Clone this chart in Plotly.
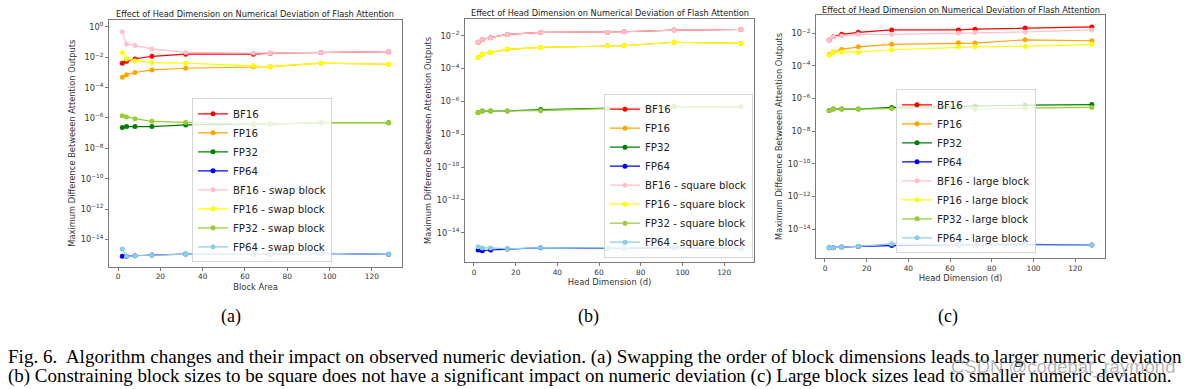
import plotly.graph_objects as go

W, H = 1190, 389

# ---------------- data ----------------
x_vals = [2, 4, 8, 16, 32, 64, 72, 96, 128]

# (a) swap block
bf16_a = [4.0e-3, 5.5e-3, 7.8e-3, 1.17e-2, 1.6e-2, 1.6e-2, 1.85e-2, 2.1e-2, 2.35e-2]
fp16_a = [4.8e-4, 7.2e-4, 1.0e-3, 1.48e-3, 1.9e-3, 2.4e-3, 2.4e-3, 4.1e-3, 3.5e-3]
fp32_a = [2.4e-7, 2.7e-7, 2.7e-7, 2.7e-7, 3.5e-7, 3.8e-7, 4.0e-7, 4.9e-7, 4.9e-7]
fp64_a = [7.8e-16, 7.8e-16, 8.3e-16, 9.3e-16, 1.07e-15, 1.02e-15, 1.05e-15, 1.2e-15, 1.03e-15]
bf16_swap_a = [0.49, 0.076, 0.059, 0.036, 0.021, 0.019, 0.019, 0.021, 0.024]
fp16_swap_a = [2.1e-2, 7.8e-3, 6.0e-3, 4.5e-3, 4.1e-3, 2.8e-3, 2.4e-3, 4.1e-3, 3.5e-3]
fp32_swap_a = [1.4e-6, 1.17e-6, 9.0e-7, 6.0e-7, 5.1e-7, 3.8e-7, 4.0e-7, 4.9e-7, 4.9e-7]
fp64_swap_a = [2.3e-15, 7.8e-16, 8.3e-16, 9.3e-16, 1.07e-15, 1.02e-15, 1.05e-15, 1.2e-15, 1.03e-15]

# (b) square block
bf16_b = [4.0e-3, 6.0e-3, 7.6e-3, 1.2e-2, 1.6e-2, 1.6e-2, 1.75e-2, 2.2e-2, 2.4e-2]
fp16_b = [4.8e-4, 7.4e-4, 9.8e-4, 1.48e-3, 1.95e-3, 2.46e-3, 2.46e-3, 4.0e-3, 3.4e-3]
fp32_b = [2.1e-7, 2.6e-7, 2.6e-7, 2.6e-7, 3.2e-7, 3.6e-7, 4.1e-7, 4.8e-7, 4.7e-7]
fp64_b = [8.9e-16, 7.9e-16, 8.8e-16, 1.0e-15, 1.2e-15, 1.1e-15, 1.15e-15, 1.2e-15, 1.1e-15]
bf16_sq_b = [4.0e-3, 6.0e-3, 7.6e-3, 1.2e-2, 1.6e-2, 1.6e-2, 1.75e-2, 2.2e-2, 2.4e-2]
fp16_sq_b = [4.8e-4, 7.4e-4, 9.8e-4, 1.48e-3, 1.95e-3, 2.46e-3, 2.46e-3, 4.0e-3, 3.4e-3]
fp32_sq_b = [2.1e-7, 2.6e-7, 2.6e-7, 2.6e-7, 2.7e-7, 3.6e-7, 4.1e-7, 4.8e-7, 4.7e-7]
fp64_sq_b = [1.4e-15, 1.17e-15, 1.17e-15, 1.02e-15, 1.23e-15, 1.12e-15, 1.15e-15, 1.2e-15, 1.1e-15]

# (c) large block
bf16_c = [3.9e-3, 6.2e-3, 8.7e-3, 1.15e-2, 1.6e-2, 1.6e-2, 1.78e-2, 2.1e-2, 2.45e-2]
fp16_c = [5.0e-4, 7.2e-4, 1.03e-3, 1.49e-3, 2.1e-3, 2.6e-3, 2.5e-3, 4.0e-3, 3.5e-3]
fp32_c = [1.9e-7, 2.3e-7, 2.3e-7, 2.3e-7, 2.9e-7, 3.2e-7, 3.5e-7, 4.0e-7, 4.3e-7]
fp64_c = [7.4e-16, 7.4e-16, 8.1e-16, 8.9e-16, 1.0e-15, 1.1e-15, 1.15e-15, 1.18e-15, 1.07e-15]
bf16_lg_c = [3.9e-3, 6.2e-3, 6.8e-3, 8.7e-3, 8.7e-3, 1.04e-2, 1.1e-2, 1.2e-2, 1.6e-2]
fp16_lg_c = [4.6e-4, 6.8e-4, 7.2e-4, 7.0e-4, 9.8e-4, 1.49e-3, 1.49e-3, 1.58e-3, 2.1e-3]
fp32_lg_c = [1.9e-7, 2.3e-7, 2.3e-7, 2.3e-7, 2.4e-7, 2.9e-7, 2.3e-7, 2.6e-7, 2.9e-7]
fp64_lg_c = [7.4e-16, 7.4e-16, 8.1e-16, 8.9e-16, 1.26e-15, 1.1e-15, 1.1e-15, 1.1e-15, 1.07e-15]

base_names = ["BF16", "FP16", "FP32", "FP64"]
base_colors = ["#ff0000", "#ffa500", "#008000", "#0000ff"]
var_colors = ["#ffc0cb", "#ffff00", "#9acd32", "#87ceeb"]

panels = [
    dict(key="a", suffix="swap block", xlabel="Block Area",
         base=[bf16_a, fp16_a, fp32_a, fp64_a],
         var=[bf16_swap_a, fp16_swap_a, fp32_swap_a, fp64_swap_a]),
    dict(key="b", suffix="square block", xlabel="Head Dimension (d)",
         base=[bf16_b, fp16_b, fp32_b, fp64_b],
         var=[bf16_sq_b, fp16_sq_b, fp32_sq_b, fp64_sq_b]),
    dict(key="c", suffix="large block", xlabel="Head Dimension (d)",
         base=[bf16_c, fp16_c, fp32_c, fp64_c],
         var=[bf16_lg_c, fp16_lg_c, fp32_lg_c, fp64_lg_c]),
]

title_text = "Effect of Head Dimension on Numerical Deviation of Flash Attention"
ylabel_text = "Maximum Difference Betweeen Attention Outputs"
sub_labels = ["(a)", "(b)", "(c)"]
caption1 = ("Fig. 6.\u00a0 Algorithm changes and their impact on observed numeric deviation. "
            "(a) Swapping the order of block dimensions leads to larger numeric deviation")
caption2 = ("(b) Constraining block sizes to be square does not have a significant impact on "
            "numeric deviation (c) Large block sizes lead to smaller numeric deviation.")
watermark = "CSDN @codebat_raymond"

x_ticks = [0, 20, 40, 60, 80, 100, 120]
y_exps_list = [[0, -2, -4, -6, -8, -10, -12, -14],
               [-2, -4, -6, -8, -10, -12, -14],
               [-2, -4, -6, -8, -10, -12, -14]]

# ---------------- layout geometry (pixels) ----------------
boxes = [  # x0, x1, ytop, ybottom
    (109, 402, 20, 266.5),
    (465, 754, 19, 261.7),
    (816, 1105, 15, 258),
]
y_ranges = [[-15.79, 0.46], [-15.77, -0.98], [-15.76, -0.88]]
x_range = [-4.3, 134.3]
title_y = [14, 12.5, 10]
legend_pos = [  # x px, anchor, bottom px
    (192, "left", 262.3),
    (753, "right", 257.7),
    (896, "left", 253.3),
]
sub_label_x = [231, 588, 948]


def px(xp):
    return xp / W


def py(yp):
    return 1 - yp / H


fig = go.Figure()
FONT = "DejaVu Sans"
AX = "#7a7a7a"

for i, p in enumerate(panels):
    xa = "x" if i == 0 else f"x{i+1}"
    ya = "y" if i == 0 else f"y{i+1}"
    lg = "legend" if i == 0 else f"legend{i+1}"
    rank = 0
    for name, col, ys in zip(base_names, base_colors, p["base"]):
        fig.add_trace(go.Scatter(
            x=x_vals, y=ys, mode="lines+markers", name=name,
            line=dict(color=col, width=1.2), marker=dict(color=col, size=5),
            xaxis=xa, yaxis=ya, legend=lg, legendrank=rank))
        rank += 1
    for name, col, ys in zip(base_names, var_colors, p["var"]):
        fig.add_trace(go.Scatter(
            x=x_vals, y=ys, mode="lines+markers", name=f"{name} - {p['suffix']}",
            line=dict(color=col, width=1.2), marker=dict(color=col, size=5),
            xaxis=xa, yaxis=ya, legend=lg, legendrank=rank))
        rank += 1

layout = dict(
    width=W, height=H, margin=dict(l=0, r=0, t=0, b=0),
    paper_bgcolor="white", plot_bgcolor="white", showlegend=True,
    font=dict(family=FONT, color="#333333"),
)
annotations = []
for i, p in enumerate(panels):
    x0, x1, yt, yb = boxes[i]
    xk = "xaxis" if i == 0 else f"xaxis{i+1}"
    yk = "yaxis" if i == 0 else f"yaxis{i+1}"
    ya = "y" if i == 0 else f"y{i+1}"
    xa = "x" if i == 0 else f"x{i+1}"
    layout[xk] = dict(
        domain=[px(x0), px(x1)], range=x_range, anchor=ya,
        tickvals=x_ticks, ticks="outside", ticklen=3, tickcolor=AX,
        showline=True, linecolor=AX, linewidth=1, mirror=True,
        showgrid=False, zeroline=False,
        tickfont=dict(size=7.4, family=FONT, color="#333"),
        title=dict(text=p["xlabel"], font=dict(size=8.4, family=FONT, color="#333"), standoff=3),
    )
    exps = y_exps_list[i]
    layout[yk] = dict(
        domain=[py(yb), py(yt)], type="log", range=y_ranges[i], anchor=xa,
        tickvals=[10.0 ** e for e in exps],
        ticktext=["10<sup>" + (str(e).replace("-", "\u2212")) + "</sup>" for e in exps],
        ticks="outside", ticklen=3, tickcolor=AX,
        showline=True, linecolor=AX, linewidth=1, mirror=True,
        showgrid=False, zeroline=False,
        tickfont=dict(size=8.2, family=FONT, color="#333"),
        title=dict(text=ylabel_text, font=dict(size=8.3, family=FONT, color="#333"), standoff=3),
    )
    lx, anc, lb = legend_pos[i]
    lkey = "legend" if i == 0 else f"legend{i+1}"
    layout[lkey] = dict(
        x=px(lx), xanchor=anc, y=py(lb), yanchor="bottom",
        bgcolor="rgba(255,255,255,0.8)", bordercolor="#d5d5d5", borderwidth=1,
        font=dict(size=10.2, family=FONT, color="#222"),
        tracegroupgap=0, itemwidth=30,
    )
    annotations.append(dict(
        text=title_text, x=px((x0 + x1) / 2), y=py(title_y[i]), xref="paper", yref="paper",
        xanchor="center", yanchor="middle", showarrow=False,
        font=dict(size=8.2, family=FONT, color="#222")))
    annotations.append(dict(
        text=sub_labels[i], x=px(sub_label_x[i]), y=py(316), xref="paper", yref="paper",
        xanchor="center", yanchor="middle", showarrow=False,
        font=dict(size=18, family="Liberation Serif", color="#000")))

annotations.append(dict(
    text=caption1, x=px(6), y=py(356.5), xref="paper", yref="paper",
    xanchor="left", yanchor="middle", showarrow=False,
    font=dict(size=19.1, family="Liberation Serif", color="#000")))
annotations.append(dict(
    text=caption2, x=px(6), y=py(376), xref="paper", yref="paper",
    xanchor="left", yanchor="middle", showarrow=False,
    font=dict(size=18.95, family="Liberation Serif", color="#000")))
annotations.append(dict(
    text=watermark, x=px(1177), y=py(367), xref="paper", yref="paper",
    xanchor="right", yanchor="middle", showarrow=False,
    font=dict(size=18.5, family="Liberation Sans", color="rgba(140,140,140,0.65)")))

layout["annotations"] = annotations
fig.update_layout(**layout)
fig.write_html("out.html", config={"displayModeBar": False},
               post_script="document.body.style.margin='0';")
